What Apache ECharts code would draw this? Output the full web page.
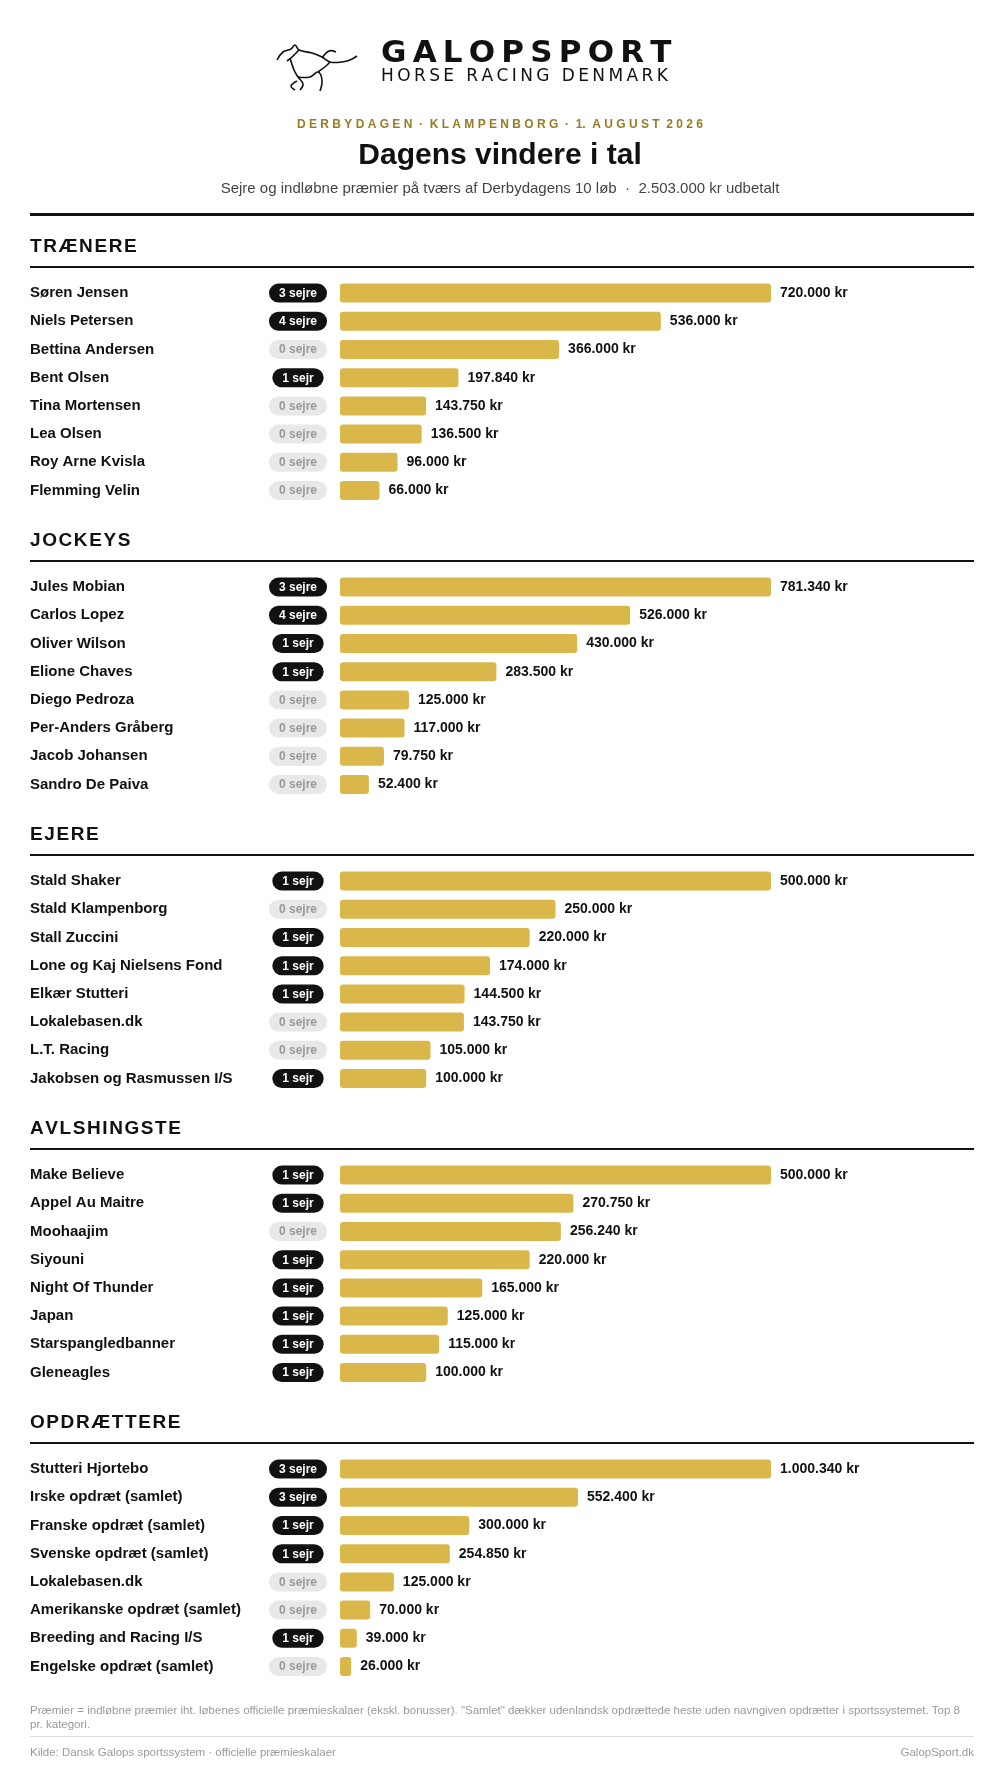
<!DOCTYPE html>
<html><head><meta charset="utf-8">
<script src="https://cdn.jsdelivr.net/npm/echarts@6/dist/echarts.min.js"></script>
<style>html,body{margin:0;background:#fff}#c{width:1000px;height:1776px}</style>
</head><body><div id="c"></div>
<script>
// Sektioner
var sections = ['TRÆNERE', 'JOCKEYS', 'EJERE', 'AVLSHINGSTE', 'OPDRÆTTERE'];

var trainerNames = ['Søren Jensen', 'Niels Petersen', 'Bettina Andersen', 'Bent Olsen', 'Tina Mortensen', 'Lea Olsen', 'Roy Arne Kvisla', 'Flemming Velin'];
var trainerWins = [3, 4, 0, 1, 0, 0, 0, 0];
var trainerPrize = [720000, 536000, 366000, 197840, 143750, 136500, 96000, 66000];

var jockeyNames = ['Jules Mobian', 'Carlos Lopez', 'Oliver Wilson', 'Elione Chaves', 'Diego Pedroza', 'Per-Anders Gråberg', 'Jacob Johansen', 'Sandro De Paiva'];
var jockeyWins = [3, 4, 1, 1, 0, 0, 0, 0];
var jockeyPrize = [781340, 526000, 430000, 283500, 125000, 117000, 79750, 52400];

var ownerNames = ['Stald Shaker', 'Stald Klampenborg', 'Stall Zuccini', 'Lone og Kaj Nielsens Fond', 'Elkær Stutteri', 'Lokalebasen.dk', 'L.T. Racing', 'Jakobsen og Rasmussen I/S'];
var ownerWins = [1, 0, 1, 1, 1, 0, 0, 1];
var ownerPrize = [500000, 250000, 220000, 174000, 144500, 143750, 105000, 100000];

var sireNames = ['Make Believe', 'Appel Au Maitre', 'Moohaajim', 'Siyouni', 'Night Of Thunder', 'Japan', 'Starspangledbanner', 'Gleneagles'];
var sireWins = [1, 1, 0, 1, 1, 1, 1, 1];
var sirePrize = [500000, 270750, 256240, 220000, 165000, 125000, 115000, 100000];

var breederNames = ['Stutteri Hjortebo', 'Irske opdræt (samlet)', 'Franske opdræt (samlet)', 'Svenske opdræt (samlet)', 'Lokalebasen.dk', 'Amerikanske opdræt (samlet)', 'Breeding and Racing I/S', 'Engelske opdræt (samlet)'];
var breederWins = [3, 3, 1, 1, 0, 0, 1, 0];
var breederPrize = [1000340, 552400, 300000, 254850, 125000, 70000, 39000, 26000];

var groups = [
    [trainerNames, trainerWins, trainerPrize],
    [jockeyNames, jockeyWins, jockeyPrize],
    [ownerNames, ownerWins, ownerPrize],
    [sireNames, sireWins, sirePrize],
    [breederNames, breederWins, breederPrize]
];

function kr(v) {
    return String(v).replace(/\B(?=(\d{3})+(?!\d))/g, '.') + ' kr';
}
function badge(w) {
    return w === 0 ? '{off|0 sejre}' : (w === 1 ? '{on|1 sejr}' : '{on|' + w + ' sejre}');
}
function spaced(s, sp) {
    return s.split('').join(sp);
}

var chart = echarts.init(document.getElementById('c'));
var FONT = 'Liberation Sans, Arial, sans-serif';
var GOLD = '#d9b74b';
var grids = [], xAxes = [], yAxes = [], series = [];

// hesteskitse (logo)
var horseLines = [
    [[277, 60], [283, 52], [291, 49], [295, 45], [299, 50], [312, 53], [322, 57], [330, 62], [342, 62], [350, 60], [357, 56]],
    [[299, 50], [292, 57], [287, 61]],
    [[290, 58], [294, 70], [298, 77], [303, 84], [300, 90]],
    [[298, 77], [310, 77], [318, 72], [322, 80], [320, 91]],
    [[318, 72], [326, 66], [330, 62]],
    [[297, 81], [291, 86], [295, 90]],
    [[322, 58], [329, 51], [336, 52]]
];
var graphics = horseLines.map(function (pts) {
    return { type: 'polyline', shape: { points: pts, smooth: 0.4 }, style: { stroke: '#111', lineWidth: 1.6, fill: null } };
});
graphics = graphics.concat([
    { type: 'text', left: 381, top: 38, style: { text: spaced('GALOPSPORT', '\u2009'), font: 'bold 31px "DejaVu Sans"', fill: '#111' } },
    { type: 'text', left: 381, top: 68, style: { text: spaced('HORSE RACING DENMARK', '\u2009'), font: '17px "DejaVu Sans"', fill: '#111' } },
    { type: 'text', x: 500, y: 125, style: { text: 'D E R B Y D A G E N  ·  K L A M P E N B O R G  ·  1.  A U G U S T  2 0 2 6', font: 'bold 12px ' + FONT, fill: '#9a7a22', align: 'center', verticalAlign: 'middle' } },
    { type: 'text', x: 500, y: 156, style: { text: 'Dagens vindere i tal', font: 'bold 30px ' + FONT, fill: '#111', align: 'center', verticalAlign: 'middle' } },
    { type: 'text', x: 500, y: 189, style: { text: 'Sejre og indløbne præmier på tværs af Derbydagens 10 løb  ·  2.503.000 kr udbetalt', font: '15px ' + FONT, fill: '#444', align: 'center', verticalAlign: 'middle' } },
    { type: 'rect', shape: { x: 30, y: 213, width: 944, height: 3 }, style: { fill: '#111' } },
    { type: 'text', x: 30, y: 1711, style: { text: 'Præmier = indløbne præmier iht. løbenes officielle præmieskalaer (ekskl. bonusser). "Samlet" dækker udenlandsk opdrættede heste uden navngiven opdrætter i sportssystemet. Top 8', font: '11.5px ' + FONT, fill: '#999', verticalAlign: 'middle' } },
    { type: 'text', x: 30, y: 1725, style: { text: 'pr. kategori.', font: '11.5px ' + FONT, fill: '#999', verticalAlign: 'middle' } },
    { type: 'rect', shape: { x: 30, y: 1736, width: 944, height: 1 }, style: { fill: '#ddd' } },
    { type: 'text', x: 30, y: 1753, style: { text: 'Kilde: Dansk Galops sportssystem · officielle præmieskalaer', font: '11.5px ' + FONT, fill: '#999', verticalAlign: 'middle' } },
    { type: 'text', x: 974, y: 1753, style: { text: 'GalopSport.dk', font: '11.5px ' + FONT, fill: '#999', align: 'right', verticalAlign: 'middle' } }
]);

groups.forEach(function (g, i) {
    var off = i * 294;
    graphics.push({ type: 'text', x: 30, y: 247 + off, style: { text: spaced(sections[i], '\u200A'), font: 'bold 19px ' + FONT, fill: '#111', verticalAlign: 'middle' } });
    graphics.push({ type: 'rect', shape: { x: 30, y: 266 + off, width: 944, height: 2 }, style: { fill: '#111' } });
    var top = 279 + off;
    grids.push({ left: 340, width: 431, top: top, height: 8 * 28.2 });
    xAxes.push({ gridIndex: i, type: 'value', min: 0, max: Math.max.apply(null, g[2]), show: false });
    yAxes.push({
        gridIndex: i, type: 'category', inverse: true, data: g[0], position: 'left',
        axisLine: { show: false }, axisTick: { show: false },
        axisLabel: { align: 'left', margin: 310, padding: [2, 0, 0, 0], fontFamily: FONT, fontWeight: 'bold', fontSize: 15, color: '#111' }
    });
    yAxes.push({
        gridIndex: i, type: 'category', inverse: true, data: g[1].map(String), position: 'left',
        axisLine: { show: false }, axisTick: { show: false },
        axisLabel: {
            align: 'center', margin: 42, formatter: function (v) { return badge(+v); },
            rich: {
                on: { backgroundColor: '#111', color: '#fff', fontWeight: 'bold', fontSize: 12, fontFamily: FONT, padding: [4, 10, 3, 10], borderRadius: 10 },
                off: { backgroundColor: '#e8e8e8', color: '#999', fontWeight: 'bold', fontSize: 12, fontFamily: FONT, padding: [4, 10, 3, 10], borderRadius: 10 }
            }
        }
    });
    series.push({
        type: 'bar', xAxisIndex: i, yAxisIndex: i * 2, data: g[2], barWidth: 19,
        itemStyle: { color: GOLD, borderRadius: 3 }, silent: true,
        label: { show: true, position: 'right', distance: 9, formatter: function (p) { return kr(p.value); }, fontFamily: FONT, fontWeight: 'bold', fontSize: 14, color: '#111' }
    });
});

chart.setOption({
    animation: false,
    grid: grids, xAxis: xAxes, yAxis: yAxes, series: series,
    graphic: { elements: graphics }
});
</script></body></html>
